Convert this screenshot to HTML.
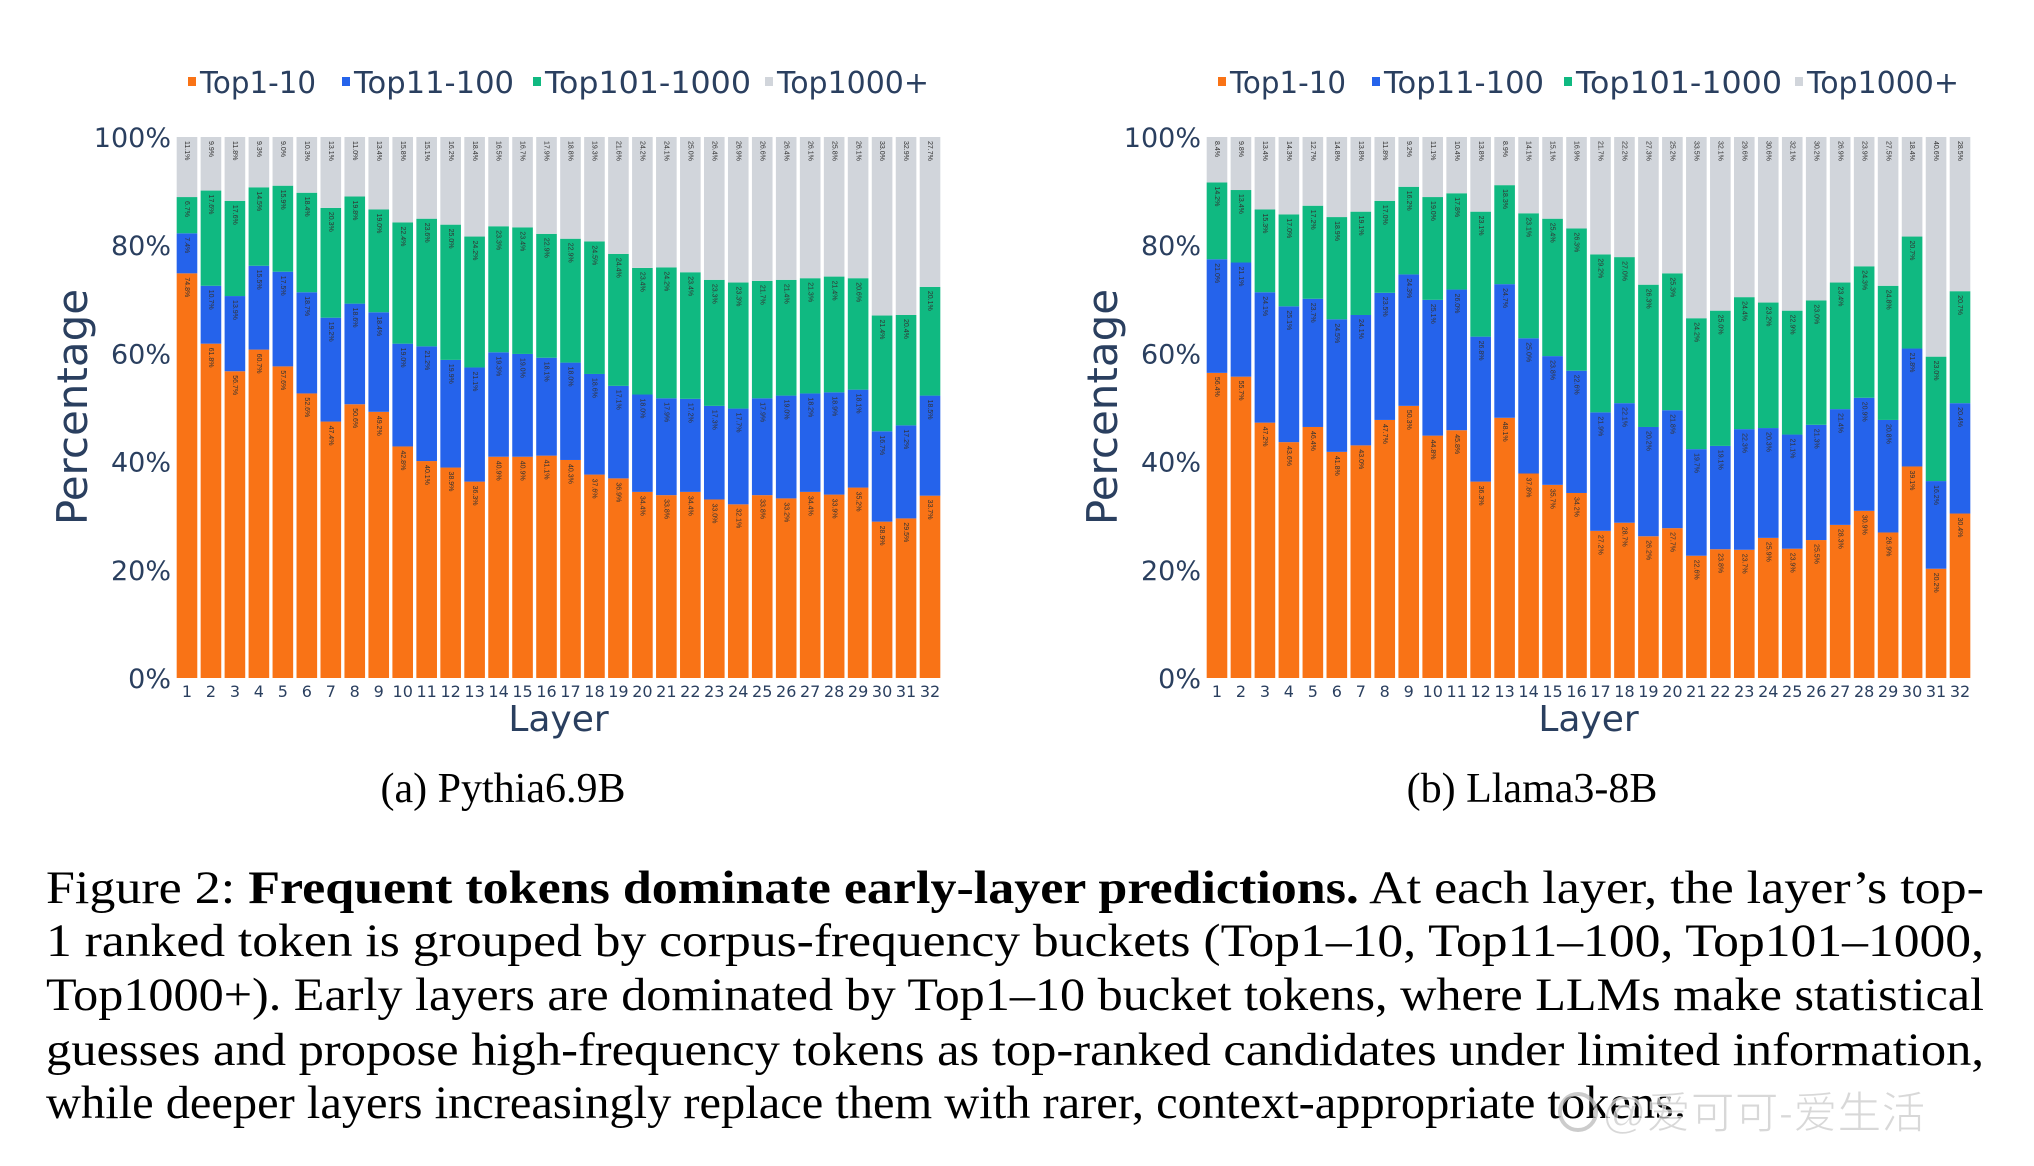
<!DOCTYPE html>
<html><head><meta charset="utf-8">
<style>
html,body{margin:0;padding:0;background:#fff;}
body{width:2034px;height:1166px;overflow:hidden;}
svg{display:block;}
</style></head>
<body>
<svg id="fig" width="2034" height="1166" viewBox="0 0 2034 1166" xmlns="http://www.w3.org/2000/svg">
  <g id="chartA"></g>
  <g id="chartB"></g>
  <text x="503" y="802" text-anchor="middle" font-family="Liberation Serif, serif" font-size="42" fill="#000">(a) Pythia6.9B</text>
  <text x="1532" y="802" text-anchor="middle" font-family="Liberation Serif, serif" font-size="42" fill="#000">(b) Llama3-8B</text>
  <g font-family="Liberation Serif, serif" font-size="47" fill="#000">
    <text x="46" y="903" textLength="1938" lengthAdjust="spacingAndGlyphs">Figure 2:  <tspan font-weight="bold">Frequent tokens dominate early-layer predictions.</tspan>  At each layer, the layer’s top-</text>
    <text x="46" y="956" textLength="1938" lengthAdjust="spacingAndGlyphs">1 ranked token is grouped by corpus-frequency buckets (Top1–10, Top11–100, Top101–1000,</text>
    <text x="46" y="1010" textLength="1938" lengthAdjust="spacingAndGlyphs">Top1000+).  Early layers are dominated by Top1–10 bucket tokens, where LLMs make statistical</text>
    <text x="46" y="1065" textLength="1938" lengthAdjust="spacingAndGlyphs">guesses and propose high-frequency tokens as top-ranked candidates under limited information,</text>
    <text x="46" y="1118" textLength="1640" lengthAdjust="spacingAndGlyphs">while deeper layers increasingly replace them with rarer, context-appropriate tokens.</text>
  </g>
  <g opacity="0.75">
    <circle cx="1578" cy="1112" r="18" fill="none" stroke="#bbb" stroke-width="4"/>
    <text x="1602" y="1128" font-family="Liberation Sans, Noto Sans CJK SC, sans-serif" font-size="44" fill="#ccc" stroke="#fff" stroke-width="1">@爱可可-爱生活</text>
  </g>
</svg>
<script>
const layers = ["1","2","3","4","5","6","7","8","9","10","11","12","13","14","15","16","17","18","19","20","21","22","23","24","25","26","27","28","29","30","31","32"];
const yTicks = [0,20,40,60,80,100];
const seriesNames = ["Top1-10","Top11-100","Top101-1000","Top1000+"];
const pythiaTop10 = [74.8,61.8,56.7,60.7,57.6,52.6,47.4,50.6,49.2,42.8,40.1,38.9,36.3,40.9,40.9,41.1,40.3,37.6,36.9,34.4,33.8,34.4,33.0,32.1,33.8,33.2,34.4,33.9,35.2,28.9,29.5,33.7];
const pythiaTop100 = [7.4,10.7,13.9,15.5,17.5,18.7,19.2,18.6,18.4,19.0,21.2,19.9,21.1,19.3,19.0,18.1,18.0,18.6,17.1,18.0,17.9,17.2,17.3,17.7,17.9,19.0,18.2,18.9,18.1,16.7,17.2,18.5];
const pythiaTop1000 = [6.7,17.6,17.6,14.5,15.9,18.4,20.3,19.8,19.0,22.4,23.6,25.0,24.2,23.3,23.4,22.9,22.9,24.5,24.4,23.4,24.2,23.4,23.3,23.3,21.7,21.4,21.3,21.4,20.6,21.4,20.4,20.1];
const llamaTop10 = [56.4,55.7,47.2,43.6,46.4,41.8,43.0,47.7,50.3,44.8,45.8,36.3,48.1,37.8,35.7,34.2,27.2,28.7,26.2,27.7,22.6,23.8,23.7,25.9,23.9,25.5,28.3,30.9,26.9,39.1,20.2,30.4];
const llamaTop100 = [21.0,21.1,24.1,25.1,23.7,24.5,24.1,23.5,24.3,25.1,26.0,26.8,24.7,25.0,23.8,22.6,21.9,22.1,20.2,21.8,19.7,19.1,22.3,20.3,21.1,21.3,21.4,20.9,20.8,21.8,16.2,20.4];
const llamaTop1000 = [14.2,13.4,15.3,17.0,17.2,18.9,19.1,17.0,16.2,19.0,17.8,23.1,18.3,23.1,25.4,26.3,29.2,27.0,26.3,25.3,24.2,25.0,24.4,23.2,22.9,23.0,23.4,24.3,24.8,20.7,23.0,20.7];

const NS = "http://www.w3.org/2000/svg";
const colors = ["#f97316","#2563eb","#10b981","#d1d5db"];
const txt = "#2a3f5f";
function mk(tag, attrs, parent){const e=document.createElementNS(NS,tag);for(const k in attrs)e.setAttribute(k,attrs[k]);parent.appendChild(e);return e;}

function drawChart(g, x0, x1, s1, s2, s3, legendX, prefix){
  const y0 = 678, yTop = 137;
  const yS = v => y0 - (v/100)*(y0-yTop);
  const slot = (x1-x0)/layers.length;
  const bw = slot*0.86;
  const xS = i => x0 + slot*i + (slot-bw)/2;
  yTicks.forEach(t=>{
    const tl = mk("text",{x:x0-4,y:yS(t)+10,"text-anchor":"end","font-family":"DejaVu Sans, Liberation Sans, sans-serif","font-size":"27",fill:txt},g);
    
    
    tl.textContent = t+"%";
  });
  layers.forEach((lab,i)=>{
    const vals=[s1[i],s2[i],s3[i]];
    vals.push(Math.max(0,100-vals[0]-vals[1]-vals[2]));
    let acc=0;
    vals.forEach((v,k)=>{
      const r = mk("rect",{x:xS(i),y:yS(acc+v),width:bw,height:yS(acc)-yS(acc+v),fill:colors[k]},g);
      
      
      const lx = xS(i)+bw/2, ly = yS(acc+v)+4;
      const t = mk("text",{x:lx,y:ly,transform:`rotate(90 ${lx} ${ly})`,"font-family":"Liberation Sans, sans-serif","font-size":"7",fill:"#333","dominant-baseline":"middle"},g);
      
      
      t.textContent = v.toFixed(1)+"%";
      acc+=v;
    });
    const xl = mk("text",{x:xS(i)+bw/2,y:697,"text-anchor":"middle","font-family":"DejaVu Sans, Liberation Sans, sans-serif","font-size":"16",fill:txt},g);
    
    
    xl.textContent = lab;
  });
  const xt = mk("text",{x:(x0+x1)/2,y:731,"text-anchor":"middle","font-family":"DejaVu Sans, Liberation Sans, sans-serif","font-size":"36",fill:txt},g);
  
  
  xt.textContent="Layer";
  const ycx = x0-88, ycy = 407;
  const yt = mk("text",{x:ycx,y:ycy,transform:`rotate(-90 ${ycx} ${ycy})`,"text-anchor":"middle","font-family":"DejaVu Sans, Liberation Sans, sans-serif","font-size":"42",fill:txt},g);
  
  
  yt.textContent="Percentage";
  const widths=[116,160,206,152];
  seriesNames.forEach((n,k)=>{
    const lg = mk("g",{},g);
    
    
    mk("rect",{x:legendX[k],y:77,width:8,height:9,fill:colors[k]},lg);
    const lt = mk("text",{x:legendX[k]+12,y:93,"font-family":"DejaVu Sans, Liberation Sans, sans-serif","font-size":"30",fill:txt,textLength:widths[k],lengthAdjust:"spacingAndGlyphs"},lg);
    lt.textContent=n;
  });
}
drawChart(document.getElementById("chartA"),175,942,pythiaTop10,pythiaTop100,pythiaTop1000,[188,342,533,765],"pythia");
drawChart(document.getElementById("chartB"),1205,1972,llamaTop10,llamaTop100,llamaTop1000,[1218,1372,1564,1795],"llama");
</script>
</body></html>
